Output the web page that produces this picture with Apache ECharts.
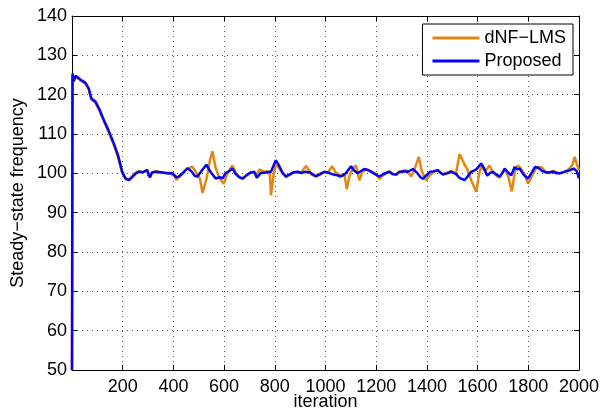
<!DOCTYPE html>
<html>
<head>
<meta charset="utf-8">
<script src="https://cdn.jsdelivr.net/npm/echarts@6/dist/echarts.min.js"></script>
<style>
  html, body { margin: 0; padding: 0; background: #fff; }
  #chart { width: 601px; height: 414px; }
</style>
</head>
<body>
<div id="chart"></div>
<script>
// proposed estimator (blue): iteration / value pairs
const propIter = [0, 2, 7, 14, 20, 34, 53, 66, 76, 93, 110, 126, 145, 165, 182, 198, 212, 225, 240, 252,
  264, 280, 297, 302, 308, 315, 330, 350, 375, 395, 402, 412, 422, 440, 455, 470, 485, 495, 510, 530,
  548, 567, 583, 594, 605, 620, 633, 645, 660, 673, 690, 705, 719, 729, 745, 765, 785, 804, 815, 830,
  844, 860, 875, 890, 905, 920, 940, 962, 980, 995, 1010, 1026, 1040, 1061, 1080, 1101, 1112, 1127, 1140, 1153,
  1170, 1190, 1213, 1230, 1252, 1265, 1279, 1290, 1305, 1325, 1345, 1360, 1375, 1384, 1400, 1412, 1424, 1443, 1453, 1463,
  1480, 1496, 1515, 1530, 1549, 1562, 1575, 1595, 1614, 1626, 1638, 1650, 1660, 1675, 1687, 1697, 1707, 1720, 1733, 1746,
  1756, 1766, 1782, 1799, 1812, 1826, 1839, 1855, 1872, 1885, 1898, 1912, 1924, 1940, 1964, 1980, 1992, 2000];
const propVal = [50, 125.4, 123.5, 124.8, 125, 123.8, 123, 121.6, 119.1, 118.2, 116, 113.5, 110.8, 107.6, 104.5, 100.4, 98.6, 98.3, 99.2, 100,
  100.4, 100.3, 100.8, 99.6, 99.0, 100.2, 100.4, 100.3, 100.0, 100.1, 100.0, 99.0, 99.2, 100.2, 101.3, 100.6, 99.3, 99.2, 100.5, 102.2,
  100.2, 98.7, 99.0, 98.7, 100, 100.6, 101.2, 99.9, 99.0, 98.7, 99.6, 100.2, 100.4, 98.9, 100.1, 100.2, 100.4, 103.3, 102.2, 100.2,
  99.2, 99.8, 100.3, 100.4, 100.1, 100.4, 100.2, 99.2, 99.8, 100.4, 100.2, 99.8, 99.6, 99.2, 100.0, 101.8, 100.8, 100.0, 100.6, 101.1,
  100.8, 100.0, 99.2, 99.9, 100.4, 99.8, 99.7, 100.3, 100.5, 100.4, 101.1, 100.2, 99.0, 98.6, 99.6, 100.4, 100.5, 100.8, 100.2, 99.7,
  100.0, 100.4, 99.8, 98.8, 98.3, 99.3, 100.4, 101.0, 102.5, 101.2, 99.4, 100.1, 100.4, 99.6, 99.2, 100.0, 101.2, 100.2, 99.5, 101.6,
  101.0, 101.2, 99.6, 98.7, 100.0, 101.6, 101.4, 100.6, 100.2, 100.3, 100.4, 100.0, 100.0, 100.3, 100.8, 101.2, 100.5, 98.7];

// dNF-LMS (orange)
const lmsIter = [0, 2, 7, 14, 20, 34, 53, 66, 76, 93, 110, 126, 145, 165, 182, 198, 212, 225, 240, 252,
  264, 280, 297, 302, 308, 315, 330, 350, 375, 395, 405, 412, 422, 440, 455, 475, 490, 505, 515, 530,
  545, 554, 566, 579, 590, 599, 610, 624, 633, 645, 660, 673, 690, 705, 719, 729, 740, 755, 770, 780,
  785, 795, 804, 815, 830, 844, 860, 875, 890, 905, 923, 935, 945, 962, 980, 995, 1010, 1026, 1040, 1061,
  1075, 1084, 1095, 1108, 1120, 1134, 1145, 1160, 1175, 1195, 1213, 1230, 1252, 1265, 1279, 1290, 1305, 1320, 1338, 1350,
  1368, 1380, 1397, 1410, 1424, 1443, 1463, 1480, 1496, 1515, 1529, 1548, 1560, 1575, 1595, 1605, 1614, 1630, 1647, 1660,
  1675, 1687, 1700, 1710, 1722, 1735, 1748, 1758, 1770, 1785, 1799, 1806, 1818, 1832, 1852, 1865, 1880, 1898, 1912, 1924,
  1940, 1960, 1975, 1983, 1992, 2000];
const lmsVal = [50, 125, 123.2, 124.6, 124.8, 123.6, 122.8, 121.3, 118.8, 117.9, 115.7, 113.2, 110.4, 107.2, 104.0, 100.0, 98.6, 98.5, 99.4, 100.2,
  100.6, 100.2, 101.0, 99.3, 98.8, 100.0, 100.6, 100.2, 100.1, 99.7, 99.2, 98.3, 99.0, 100.4, 101.2, 101.7, 100.2, 98.6, 95.0, 98.5,
  103.5, 105.6, 101.5, 99.3, 98.0, 97.3, 99.5, 101.2, 102.0, 100.2, 99.0, 98.5, 99.5, 100.2, 100.2, 99.6, 101.0, 100.4, 100.5, 100.4,
  94.4, 99.5, 102.2, 101.5, 100.0, 99.0, 99.6, 100.2, 100.2, 100.3, 101.9, 100.8, 99.6, 99.4, 100.0, 100.2, 100.2, 101.8, 100.2, 99.4,
  99.6, 96.0, 99.5, 101.2, 102.0, 98.2, 100.3, 101.0, 100.6, 100.0, 98.6, 99.6, 100.5, 99.8, 99.7, 100.4, 100.6, 100.8, 99.2, 100.8,
  104.2, 100.5, 98.2, 99.4, 100.2, 100.8, 99.8, 100.2, 100.6, 100.0, 104.9, 102.3, 101.0, 98.2, 95.3, 99.5, 101.7, 100.5, 102.0, 100.4,
  99.4, 98.9, 100.4, 101.0, 99.0, 95.4, 100.8, 102.0, 101.3, 99.8, 97.4, 97.1, 99.8, 101.4, 101.6, 100.6, 100.0, 100.6, 100.3, 100.0,
  100.4, 101.0, 102.2, 104.2, 102.3, 100.8];

const xTicks = [0, 2000, 200];   // min, max, step
const yTicks = [50, 140, 10];

const pairs = (xs, ys) => xs.map((x, i) => [x, ys[i]]);

const font = 'Liberation Sans, Arial, Helvetica, sans-serif';
const dotted = { show: true, lineStyle: { color: '#555', type: [1, 4], width: 1 } };
const blackLine = { show: true, onZero: false, lineStyle: { color: '#000', width: 1 } };
const tickIn = { show: true, inside: true, length: 5, lineStyle: { color: '#000' } };

const chart = echarts.init(document.getElementById('chart'), null, { renderer: 'canvas' });
chart.setOption({
  animation: false,
  backgroundColor: '#fff',
  grid: { left: 72, right: 22, top: 16, bottom: 44, containLabel: false, outerBoundsMode: 'none' },
  legend: {
    orient: 'vertical',
    right: 28,
    top: 24,
    backgroundColor: '#fff',
    borderColor: '#000',
    borderWidth: 1,
    borderRadius: 0,
    padding: [5, 7, 5, 10],
    itemGap: 5,
    itemWidth: 47,
    itemHeight: 3,
    textStyle: { fontFamily: font, fontSize: 18, color: '#000' },
    data: [
      { name: 'dNF−LMS', icon: 'rect' },
      { name: 'Proposed', icon: 'rect' }
    ]
  },
  xAxis: [
    {
      type: 'value', min: xTicks[0], max: xTicks[1], interval: xTicks[2],
      name: 'iteration', nameLocation: 'middle', nameGap: 23, nameMoveOverlap: false,
      nameTextStyle: { fontFamily: font, fontSize: 18, color: '#000' },
      axisLine: blackLine, axisTick: tickIn, splitLine: dotted,
      axisLabel: { fontFamily: font, fontSize: 18, color: '#000', margin: 8,
        formatter: v => (v === 0 ? '' : String(v)) }
    },
    {
      type: 'value', position: 'top', min: xTicks[0], max: xTicks[1], interval: xTicks[2],
      axisLine: blackLine, axisTick: tickIn, splitLine: { show: false }, axisLabel: { show: false }
    }
  ],
  yAxis: [
    {
      type: 'value', min: yTicks[0], max: yTicks[1], interval: yTicks[2],
      name: 'Steady−state frequency', nameLocation: 'middle', nameGap: 45, nameMoveOverlap: false,
      nameTextStyle: { fontFamily: font, fontSize: 18, color: '#000' },
      axisLine: blackLine, axisTick: tickIn, splitLine: dotted,
      axisLabel: { fontFamily: font, fontSize: 18, color: '#000', margin: 5 }
    },
    {
      type: 'value', position: 'right', min: yTicks[0], max: yTicks[1], interval: yTicks[2],
      axisLine: blackLine, axisTick: tickIn, splitLine: { show: false }, axisLabel: { show: false }
    }
  ],
  series: [
    {
      name: 'dNF−LMS', type: 'line', data: pairs(lmsIter, lmsVal),
      showSymbol: false, symbol: 'none', clip: true,
      lineStyle: { color: '#E3870F', width: 2.5 }, itemStyle: { color: '#E3870F' }
    },
    {
      name: 'Proposed', type: 'line', data: pairs(propIter, propVal),
      showSymbol: false, symbol: 'none', clip: true,
      lineStyle: { color: '#0000FF', width: 2.5 }, itemStyle: { color: '#0000FF' }
    }
  ]
});
</script>
</body>
</html>
